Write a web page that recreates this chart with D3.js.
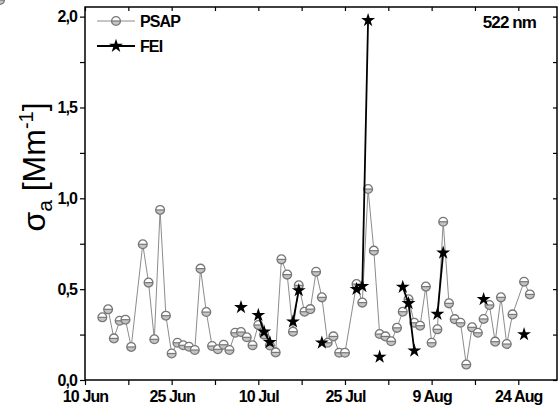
<!DOCTYPE html>
<html><head><meta charset="utf-8">
<script src="https://cdn.jsdelivr.net/npm/d3@7"></script>
<style>
html,body{margin:0;padding:0;background:#fff;}
svg{display:block;font-family:"Liberation Sans",Arial,sans-serif;}
</style></head>
<body>
<svg id="c" width="558" height="414"></svg>
<script>
// ---- data ----
const psapDates = ["06-13","06-14","06-15","06-16","06-17","06-18","06-20","06-21","06-22","06-23","06-24","06-25","06-26","06-27","06-28","06-29","06-30",
"07-01","07-02","07-03","07-04","07-05","07-06","07-07","07-08","07-09","07-10","07-11","07-12","07-13","07-14","07-15","07-16","07-17","07-18","07-19","07-20","07-21","07-22","07-23","07-24","07-25","07-27","07-28","07-29","07-30","07-31",
"08-01","08-02","08-03","08-04","08-05","08-06","08-07","08-08","08-09","08-10","08-11","08-12","08-13","08-14","08-15","08-16","08-17","08-18","08-19","08-20","08-21","08-22","08-23","08-25","08-26","08-27"];
const psapValues = [0.345,0.389,0.229,0.326,0.332,0.182,0.747,0.536,0.224,0.936,0.354,0.146,0.205,0.191,0.183,0.165,0.613,
0.374,0.187,0.169,0.194,0.165,0.260,0.264,0.235,0.191,0.303,0.250,0.190,0.152,0.664,0.580,0.266,0.521,0.376,0.390,0.596,0.455,0.205,0.240,0.150,0.150,0.528,0.426,1.051,0.712,0.253,
0.240,0.213,0.287,0.376,0.444,0.315,0.299,0.514,0.205,0.279,0.871,0.422,0.335,0.315,0.085,0.290,0.260,0.336,0.413,0.211,0.455,0.198,0.361,0.541,0.471];

const feiDates = ["07-07","07-10","07-11","07-12","07-16","07-17","07-21","07-27","07-28","07-29","07-31","08-04","08-05","08-06","08-10","08-11","08-18","08-25"];
const feiValues = [0.400,0.357,0.265,0.208,0.321,0.493,0.205,0.500,0.516,1.980,0.127,0.512,0.422,0.161,0.363,0.700,0.444,0.251];

const xTickDates = ["06-10","06-25","07-10","07-25","08-09","08-24"];
const xTickLabels = ["10 Jun","25 Jun","10 Jul","25 Jul","9 Aug","24 Aug"];
const yTickValues = [0,0.5,1.0,1.5,2.0];
const yTickLabels = ["0,0","0,5","1,0","1,5","2,0"];
const seriesNames = ["PSAP","FEI"];
const wavelengthLabel = "522 nm";

// ---- setup ----
const YEAR = 2007;
const parse = s => d3.utcParse("%Y-%m-%d")(YEAR + "-" + s);
const DAY = 864e5;
const svg = d3.select("#c");
const L = 85, R = 557, T = 7, B = 380;

const x = d3.scaleUtc()
  .domain([parse("06-10"), new Date(parse("06-10").getTime() + 81.7*DAY)])
  .range([L, R]);
const y = d3.scaleLinear().domain([0, 2.053]).range([B, T]);

const psap = psapDates.map((d,i)=>({date:parse(d), v:psapValues[i]}));
const fei = feiDates.map((d,i)=>({date:parse(d), v:feiValues[i]}));

const majorX = xTickDates.map(parse);
const minorX = majorX.map(d=>new Date(d.getTime()+7.5*DAY)).filter(d=>x(d)<R);
const minorY = [0.25,0.75,1.25,1.75];

// ---- axes ----
svg.append("g").attr("transform",`translate(0,${B})`)
  .call(d3.axisBottom(x).tickValues(majorX).tickSize(5).tickPadding(6)
    .tickFormat((d,i)=>xTickLabels[i]));
svg.append("g").attr("transform",`translate(0,${B})`)
  .call(d3.axisBottom(x).tickValues(minorX).tickSize(5).tickFormat(""));
svg.append("g").attr("transform",`translate(${L},0)`)
  .call(d3.axisLeft(y).tickValues(yTickValues).tickSize(5).tickPadding(3)
    .tickFormat((d,i)=>yTickLabels[i]));
svg.append("g").attr("transform",`translate(${L},0)`)
  .call(d3.axisLeft(y).tickValues(minorY).tickSize(5).tickFormat(""));
svg.append("g").attr("transform",`translate(0,${T})`)
  .call(d3.axisTop(x).tickValues(majorX.concat(minorX)).tickSize(-4).tickFormat(""));
svg.append("g").attr("transform",`translate(${R},0)`)
  .call(d3.axisRight(y).tickValues(yTickValues.concat(minorY)).tickSize(-4).tickFormat(""));

svg.selectAll(".domain").remove();
svg.selectAll(".tick line").attr("stroke","#000").attr("stroke-width",1.2);
svg.selectAll(".tick text").attr("fill","#000").attr("font-size",16).attr("font-weight","bold")
  .attr("letter-spacing","-0.9px");

svg.append("rect").attr("x",L).attr("y",T).attr("width",R-L).attr("height",B-T)
  .attr("fill","none").attr("stroke","#000").attr("stroke-width",1.5);

// ---- PSAP ----
const lineGen = d3.line().x(d=>x(d.date)).y(d=>y(d.v));
svg.append("path").datum(psap).attr("d",lineGen)
  .attr("fill","none").attr("stroke","#8c8c8c").attr("stroke-width",1);

function circleMarker(g, cx, cy){
  const r = 4.4;
  const m = g.append("g").attr("transform",`translate(${cx},${cy})`);
  m.append("circle").attr("r",r).attr("fill","#fff");
  m.append("path").attr("d",`M${-r},0 A${r},${r} 0 0 0 ${r},0 Z`).attr("fill","#c4c4c4");
  m.append("line").attr("x1",-r).attr("x2",r).attr("y1",0).attr("y2",0).attr("stroke","#777").attr("stroke-width",1.2);
  m.append("circle").attr("r",r).attr("fill","none").attr("stroke","#777").attr("stroke-width",1.3);
}
const gp = svg.append("g");
psap.forEach(d=>circleMarker(gp, x(d.date), y(d.v)));

// ---- FEI ----
const runs = [];
fei.forEach((d,i)=>{
  if(i===0 || (d.date - fei[i-1].date) > 1.5*DAY) runs.push([]);
  runs[runs.length-1].push(d);
});
svg.append("g").selectAll("path").data(runs.filter(r=>r.length>1)).join("path")
  .attr("d",lineGen).attr("fill","none").attr("stroke","#000").attr("stroke-width",1.8);
const star = d3.symbol(d3.symbolStar, 60);
svg.append("g").selectAll("path").data(fei).join("path")
  .attr("d",star).attr("transform",d=>`translate(${x(d.date)},${y(d.v)})`).attr("fill","#000");

// ---- legend ----
const lg = svg.append("g");
[0,1].forEach(i=>{
  const yy = 21 + i*25;
  lg.append("line").attr("x1",97).attr("x2",135).attr("y1",yy).attr("y2",yy)
    .attr("stroke", i===0?"#8c8c8c":"#000").attr("stroke-width", i===0?1:1.8);
  if(i===0) circleMarker(lg,116,yy);
  else lg.append("path").attr("d",star).attr("transform",`translate(116,${yy})`).attr("fill","#000");
  lg.append("text").attr("x",140).attr("y",yy).attr("dy","0.36em").attr("font-size",16)
    .attr("font-weight","bold").attr("letter-spacing","-0.9px").text(seriesNames[i]);
});
svg.append("text").attr("x",536).attr("y",22).attr("dy","0.36em").attr("text-anchor","end")
  .attr("font-size",17).attr("font-weight","bold").attr("letter-spacing","-0.9px").text(wavelengthLabel);

// ---- y label ----
const yl = svg.append("text").attr("transform","translate(45,167) rotate(-90)")
  .attr("text-anchor","middle").attr("font-size",32);
yl.append("tspan").text("σ");
yl.append("tspan").attr("font-size",21).attr("dy",7).text("a");
yl.append("tspan").attr("dy",-7).text(" [Mm");
yl.append("tspan").attr("font-size",20).attr("dy",-12).text("-1");
yl.append("tspan").attr("dy",12).text("]");
</script>
</body></html>
